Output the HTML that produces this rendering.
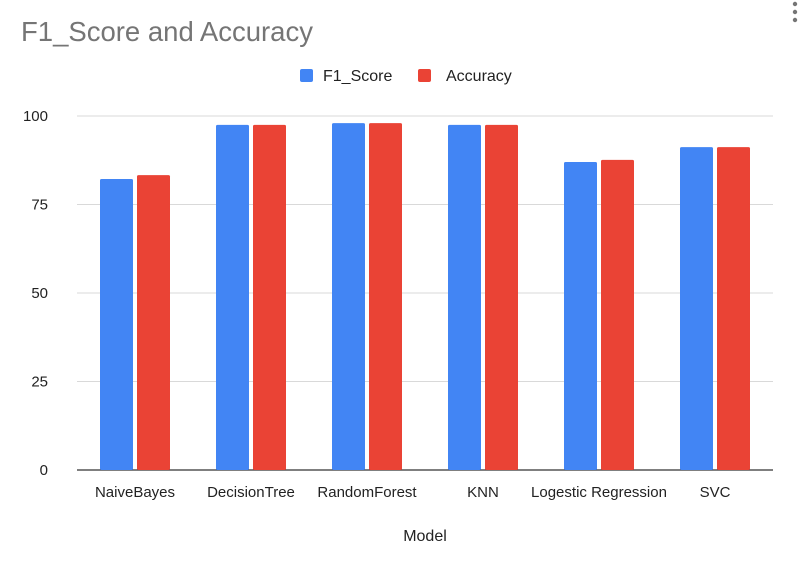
<!DOCTYPE html>
<html><head><meta charset="utf-8"><style>
body{margin:0;background:#fff;width:800px;height:560px;overflow:hidden;font-family:"Liberation Sans",Arial,sans-serif}
</style></head><body>
<svg id="chart" width="800" height="560" xmlns="http://www.w3.org/2000/svg" font-family="Liberation Sans, Arial, sans-serif">
<text x="21" y="41" font-size="27.5" fill="#757575">F1_Score and Accuracy</text>
<g fill="#757575"><circle cx="795" cy="4" r="2.2"/><circle cx="795" cy="12" r="2.2"/><circle cx="795" cy="20" r="2.2"/></g>
<g>
<rect x="300" y="69" width="13" height="13" rx="2" fill="#4285f4"/>
<text x="323" y="81" font-size="16" fill="#222">F1_Score</text>
<rect x="418" y="69" width="13" height="13" rx="2" fill="#ea4335"/>
<text x="446" y="81" font-size="16" fill="#222">Accuracy</text>
</g>
<g id="grid"></g><g id="bars"></g><g id="xlabels"></g>
<text x="425" y="541" font-size="16" fill="#222" text-anchor="middle">Model</text>
</svg>
<script>
const categories=["NaiveBayes","DecisionTree","RandomForest","KNN","Logestic Regression","SVC"];
const f1Values=[82.2,97.5,98,97.5,87,91.2];
const accValues=[83.3,97.5,98,97.5,87.6,91.2];
const yTicks=[0,25,50,75,100];
const NS="http://www.w3.org/2000/svg";
const left=77,right=773,y0=470,y100=116;
const y=v=>y0-(v/100)*(y0-y100);
const band=(right-left)/categories.length;
const xc=i=>left+band*(i+0.5);
function mk(t,a,p){const e=document.createElementNS(NS,t);for(const k in a)e.setAttribute(k,a[k]);p.appendChild(e);return e;}
const grid=document.getElementById('grid');
yTicks.forEach(t=>{
 const l=mk('line',{x1:left,x2:right,y1:y(t),y2:y(t),stroke:t===0?'#333':'#d9d9d9','stroke-width':t===0?1.2:1},grid);
 
 
 const tx=mk('text',{x:48,y:y(t)+5,'font-size':15,fill:'#222','text-anchor':'end'},grid);
 tx.textContent=t;
 
 
});
const bars=document.getElementById('bars'),xl=document.getElementById('xlabels');
const bw=33,gap=4;
categories.forEach((c,i)=>{
 const b1=mk('rect',{x:xc(i)-gap/2-bw,y:y(f1Values[i]),width:bw,height:y0-y(f1Values[i]),fill:'#4285f4',rx:1.5},bars);
 
 
 const b2=mk('rect',{x:xc(i)+gap/2,y:y(accValues[i]),width:bw,height:y0-y(accValues[i]),fill:'#ea4335',rx:1.5},bars);
 
 
 const t=mk('text',{x:xc(i),y:497,'font-size':15,fill:'#222','text-anchor':'middle'},xl);
 t.textContent=c;
 
 
});
</script>
</body></html>
